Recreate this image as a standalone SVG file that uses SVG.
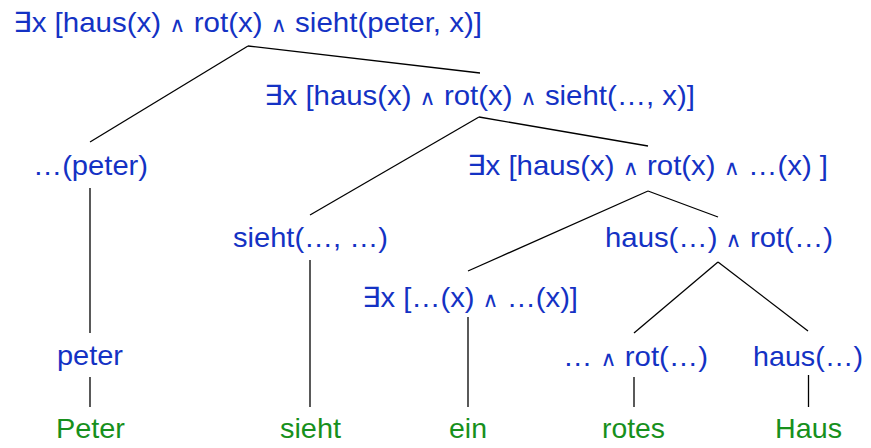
<svg xmlns="http://www.w3.org/2000/svg" width="871" height="448" viewBox="0 0 871 448">
<style>
.t{font-family:"Liberation Sans","DejaVu Sans",Arial,sans-serif;font-size:28px}
.b{fill:#1432c4}
.g{fill:#17901c}
.a{font-size:21px}
.e{stroke:#000;stroke-width:1.3;fill:none}
</style>
<rect width="871" height="448" fill="#fff"/>
<g id="connectors" class="e">
<line x1="248" y1="46" x2="90" y2="142"/>
<line x1="248" y1="46" x2="480" y2="73"/>
<line x1="479" y1="117" x2="310" y2="215"/>
<line x1="479" y1="117" x2="648" y2="146"/>
<line x1="648" y1="191" x2="468" y2="271"/>
<line x1="648" y1="191" x2="718" y2="217"/>
<line x1="718" y1="262" x2="634" y2="333"/>
<line x1="718" y1="262" x2="808" y2="331"/>
<line x1="90" y1="188" x2="90" y2="333"/>
<line x1="90" y1="377" x2="90" y2="407"/>
<line x1="310" y1="260" x2="310" y2="407"/>
<line x1="468" y1="317" x2="468" y2="407"/>
<line x1="634" y1="377" x2="634" y2="407"/>
<line x1="808.5" y1="375" x2="808.5" y2="407"/>
</g>
<g id="n-root"><text class="t b" x="13" y="32" textLength="469" lengthAdjust="spacingAndGlyphs">∃x [haus(x) <tspan class="a">∧</tspan> rot(x) <tspan class="a">∧</tspan> sieht(peter, x)]</text></g>
<g id="n-vp"><text class="t b" x="264" y="105" textLength="431" lengthAdjust="spacingAndGlyphs">∃x [haus(x) <tspan class="a">∧</tspan> rot(x) <tspan class="a">∧</tspan> sieht(…, x)]</text></g>
<g id="n-np-obj"><text class="t b" x="467" y="175" textLength="361" lengthAdjust="spacingAndGlyphs">∃x [haus(x) <tspan class="a">∧</tspan> rot(x) <tspan class="a">∧</tspan> …(x) ]</text></g>
<g id="n-subj"><text class="t b" x="33" y="175" textLength="115" lengthAdjust="spacingAndGlyphs">…(peter)</text></g>
<g id="n-verb"><text class="t b" x="233" y="247" textLength="155" lengthAdjust="spacingAndGlyphs">sieht(…, …)</text></g>
<g id="n-nbar"><text class="t b" x="605" y="247" textLength="228" lengthAdjust="spacingAndGlyphs">haus(…) <tspan class="a">∧</tspan> rot(…)</text></g>
<g id="n-det"><text class="t b" x="362" y="307" textLength="216" lengthAdjust="spacingAndGlyphs">∃x […(x) <tspan class="a">∧</tspan> …(x)]</text></g>
<g id="n-adj"><text class="t b" x="563" y="366" textLength="145" lengthAdjust="spacingAndGlyphs">… <tspan class="a">∧</tspan> rot(…)</text></g>
<g id="n-noun"><text class="t b" x="753" y="366" textLength="110" lengthAdjust="spacingAndGlyphs">haus(…)</text></g>
<g id="n-peter"><text class="t b" x="57" y="365" textLength="66" lengthAdjust="spacingAndGlyphs">peter</text></g>
<g id="w-Peter"><text class="t g" x="56" y="438" textLength="69" lengthAdjust="spacingAndGlyphs">Peter</text></g>
<g id="w-sieht"><text class="t g" x="280" y="438" textLength="61" lengthAdjust="spacingAndGlyphs">sieht</text></g>
<g id="w-ein"><text class="t g" x="449" y="438" textLength="38" lengthAdjust="spacingAndGlyphs">ein</text></g>
<g id="w-rotes"><text class="t g" x="602" y="438" textLength="63" lengthAdjust="spacingAndGlyphs">rotes</text></g>
<g id="w-Haus"><text class="t g" x="775" y="438" textLength="67" lengthAdjust="spacingAndGlyphs">Haus</text></g>
</svg>
